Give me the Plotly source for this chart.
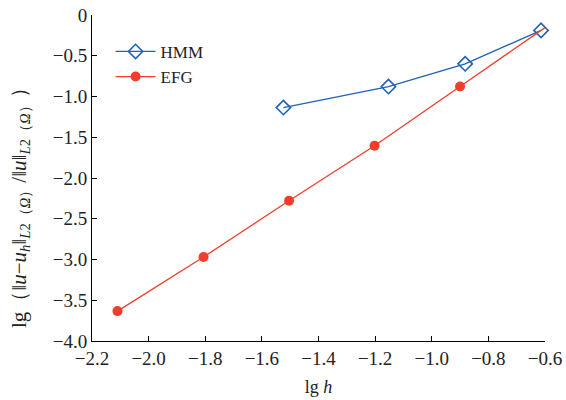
import plotly.graph_objects as go

hmm_x = [-1.524, -1.153, -0.882, -0.614]
hmm_y = [-1.136, -0.878, -0.599, -0.189]
efg_x = [-2.110, -1.806, -1.504, -1.202, -0.900, -0.594]
efg_y = [-3.633, -2.969, -2.280, -1.604, -0.878, -0.140]

x_ticks = [-2.2, -2.0, -1.8, -1.6, -1.4, -1.2, -1.0, -0.8, -0.6]
x_labels = ["−2.2", "−2.0", "−1.8", "−1.6", "−1.4", "−1.2", "−1.0", "−0.8", "−0.6"]
y_ticks = [0, -0.5, -1.0, -1.5, -2.0, -2.5, -3.0, -3.5, -4.0]
y_labels = ["0", "−0.5", "−1.0", "−1.5", "−2.0", "−2.5", "−3.0", "−3.5", "−4.0"]
y_title = "lg（‖<i>u</i>−<i>u<sub>h</sub></i>‖<sub><i>L</i>2（<i>Ω</i>）</sub>/‖<i>u</i>‖<sub><i>L</i>2（<i>Ω</i>）</sub>）"

blue = "#1f63b5"
red = "#f03e2a"
font_family = "Liberation Serif, Times New Roman, serif"

fig = go.Figure()
fig.add_trace(go.Scatter(
    x=hmm_x, y=hmm_y, name="HMM", mode="lines+markers", cliponaxis=False,
    line=dict(color=blue, width=1.3),
    marker=dict(symbol="diamond-open", size=11, color=blue, line=dict(width=1.6, color=blue)),
))
fig.add_trace(go.Scatter(
    x=efg_x, y=efg_y, name="EFG", mode="lines+markers", cliponaxis=False,
    line=dict(color=red, width=1.3),
    marker=dict(symbol="circle", size=10, color=red),
))

axis_common = dict(
    showline=True, linecolor="black", linewidth=1, mirror=False,
    ticks="inside", ticklen=5, tickwidth=1, tickcolor="black",
    showgrid=False, zeroline=False, automargin=False,
    tickfont=dict(family=font_family, size=19, color="#222"),
)

fig.update_layout(
    width=566, height=400,
    margin=dict(l=92, r=21, t=15, b=59),
    paper_bgcolor="white", plot_bgcolor="white",
    font=dict(family=font_family, color="#222"),
    showlegend=True,
    legend=dict(x=0.041, y=0.942, xanchor="left", yanchor="top",
                font=dict(family=font_family, size=17, color="#222"),
                bgcolor="rgba(0,0,0,0)", tracegroupgap=0, itemwidth=40),
    xaxis=dict(range=[-2.2, -0.6], tickvals=x_ticks, ticktext=x_labels,
               title=dict(text="lg <i>h</i>", font=dict(family=font_family, size=18), standoff=12),
               **axis_common),
    yaxis=dict(range=[-4.0, 0], tickvals=y_ticks, ticktext=y_labels, **axis_common),
    annotations=[dict(text=y_title, xref="paper", yref="paper", x=-0.159, y=0.426,
                      xanchor="center", yanchor="middle", textangle=-90, showarrow=False,
                      font=dict(family=font_family, size=21, color="#222"))],
)

fig.write_html("out.html", config={"displayModeBar": False},
               post_script="document.body.style.margin='0';document.body.style.padding='0';")
